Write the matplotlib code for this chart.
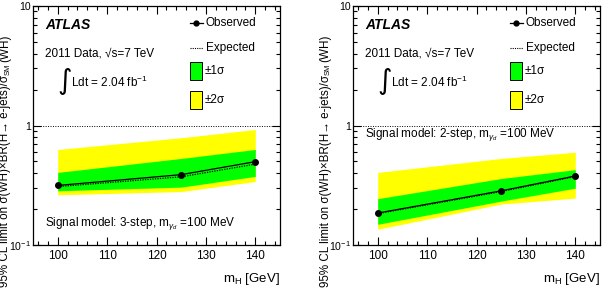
import numpy as np
import matplotlib
matplotlib.use("Agg")
import matplotlib.pyplot as plt
from matplotlib.patches import Rectangle
from matplotlib.ticker import MultipleLocator, LogLocator, NullFormatter

plt.rcParams['font.family'] = ['Liberation Sans', 'DejaVu Sans']
plt.rcParams['mathtext.fontset'] = 'custom'
plt.rcParams['mathtext.rm'] = 'Liberation Sans'
plt.rcParams['mathtext.it'] = 'Liberation Sans:italic'

# Higgs mass points (GeV)
m_h = [100, 125, 140]

# 3-step model (left panel)
obs_3step = [0.315, 0.388, 0.498]
exp_3step = [0.308, 0.372, 0.475]
g_lo_3step = [0.284, 0.305, 0.375]
g_hi_3step = [0.405, 0.53, 0.63]
y_lo_3step = [0.263, 0.28, 0.34]
y_hi_3step = [0.63, 0.79, 0.925]

# 2-step model (right panel)
obs_2step = [0.185, 0.284, 0.378]
exp_2step = [0.183, 0.280, 0.374]
g_lo_2step = [0.149, 0.233, 0.299]
g_hi_2step = [0.244, 0.36, 0.427]
y_lo_2step = [0.1355, 0.22, 0.247]
y_hi_2step = [0.405, 0.53, 0.597]

panels = [
    (obs_3step, exp_3step, g_lo_3step, g_hi_3step, y_lo_3step, y_hi_3step,
     r"Signal model: 3-step, m$_{\gamma_{d}}$ =100 MeV", 0.088),
    (obs_2step, exp_2step, g_lo_2step, g_hi_2step, y_lo_2step, y_hi_2step,
     r"Signal model: 2-step, m$_{\gamma_{d}}$ =100 MeV", 0.464),
]

W, H = 606, 294
fig = plt.figure(figsize=(W / 100, H / 100), dpi=100)
renderer = fig.canvas.get_renderer()
lefts = [33, 353]

for (obs, exp, glo, ghi, ylo, yhi, model, ty), lx in zip(panels, lefts):
    ax = fig.add_axes([lx / W, 1 - 245 / H, 247 / W, 239 / H])
    ax.fill_between(m_h, ylo, yhi, color='#ffff00', lw=0)
    ax.fill_between(m_h, glo, ghi, color='#00ff00', lw=0)
    ax.plot(m_h, exp, color='black', ls=(0, (1, 1)), lw=0.9)
    ax.plot(m_h, obs, color='black', lw=0.9, marker='o', ms=4)
    ax.axhline(1, color='black', ls=(0, (1, 1.5)), lw=0.7)

    ax.set_yscale('log')
    ax.set_ylim(0.1, 10)
    ax.set_xlim(95, 145)
    ax.xaxis.set_major_locator(MultipleLocator(10))
    ax.xaxis.set_minor_locator(MultipleLocator(2))
    ax.yaxis.set_minor_locator(LogLocator(base=10, subs=np.arange(2, 10)))
    ax.yaxis.set_minor_formatter(NullFormatter())
    ax.set_yticks([0.1, 1, 10])
    ax.set_yticklabels([r"10$^{-1}$", "1", "10"])
    ax.tick_params(which='both', direction='in', top=True, right=True,
                   labelsize=8.5, width=0.8)
    ax.tick_params(axis='y', which='major', pad=1.5, labelsize=7.6)
    ax.tick_params(which='major', length=6)
    ax.tick_params(which='minor', length=3)
    for s in ax.spines.values():
        s.set_linewidth(0.9)

    tr = ax.transAxes
    ax.text(0.05, 0.92, "ATLAS", transform=tr, fontsize=10,
            fontweight='bold', fontstyle='italic', va='center')
    ax.text(0.05, 0.80, "2011 Data, √s=7 TeV", transform=tr, fontsize=8.5,
            va='center')
    ax.text(0.10, 0.685, "∫", transform=tr, fontsize=20, va='center',
            family='DejaVu Sans')
    ax.text(0.155, 0.68, r"Ldt = 2.04 fb$^{-1}$", transform=tr, fontsize=8.5,
            va='center')
    ax.text(0.05, ty, model, transform=tr, fontsize=8.5, va='center')

    # legend drawn by hand
    ax.plot([0.635, 0.69], [0.93, 0.93], transform=tr, color='black', lw=0.9)
    ax.plot([0.66], [0.93], transform=tr, marker='o', ms=3.5, color='black')
    ax.text(0.70, 0.93, "Observed", transform=tr, fontsize=8.5, va='center')
    ax.plot([0.635, 0.69], [0.825, 0.825], transform=tr, color='black',
            ls=(0, (1, 1)), lw=0.8)
    ax.text(0.70, 0.825, "Expected", transform=tr, fontsize=8.5, va='center')
    ax.add_patch(Rectangle((0.635, 0.69), 0.05, 0.075, transform=tr,
                           facecolor='#00ff00', edgecolor='black', lw=0.7))
    ax.text(0.695, 0.728, "±1σ", transform=tr, fontsize=8.5, va='center')
    ax.add_patch(Rectangle((0.635, 0.568), 0.05, 0.075, transform=tr,
                           facecolor='#ffff00', edgecolor='black', lw=0.7))
    ax.text(0.695, 0.606, "±2σ", transform=tr, fontsize=8.5, va='center')

    fig.text((lx + 247) / W, 1 - 279 / H, r"m$_{\mathrm{H}}$ [GeV]",
             ha='right', va='center', fontsize=9.5)

    # y title built from plain pieces so the subscript stays small
    xc = lx - 27.5
    t1 = fig.text(xc / W, 1 - 287 / H,
                  "95% CL limit on σ(WH)×BR(H→ e-jets)/σ",
                  rotation=90, ha='center', va='bottom', fontsize=8.4)
    top1 = t1.get_window_extent(renderer).y1
    t2 = fig.text((xc + 2.5) / W, top1 / H, "SM", rotation=90,
                  ha='center', va='bottom', fontsize=5.5)
    top2 = t2.get_window_extent(renderer).y1
    fig.text(xc / W, (top2 + 2) / H, "(WH)", rotation=90,
             ha='center', va='bottom', fontsize=8.4)

fig.savefig("out.png", dpi=100)
